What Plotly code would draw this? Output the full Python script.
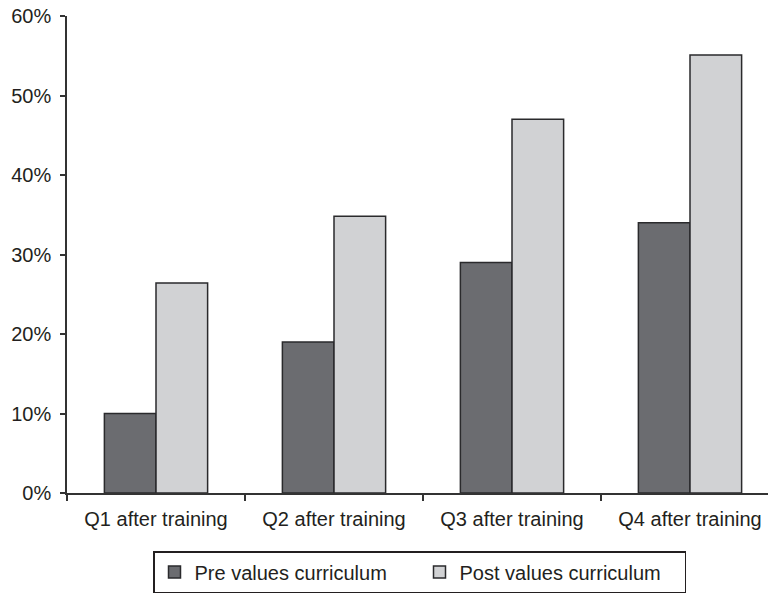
import plotly.graph_objects as go

categories = ["Q1 after training", "Q2 after training", "Q3 after training", "Q4 after training"]
pre_values = [10, 19, 29, 34]
post_values = [26.4, 34.8, 47, 55.1]
series_names = ["Pre values curriculum", "Post values curriculum"]
y_ticks = [0, 10, 20, 30, 40, 50, 60]
y_tick_labels = ["0%", "10%", "20%", "30%", "40%", "50%", "60%"]

FONT = "Liberation Sans, Arial, sans-serif"
INK = "#231f20"

W, H = 768, 596

fig = go.Figure()
fig.add_trace(go.Bar(x=categories, y=pre_values, name=series_names[0],
                     marker=dict(color="#6b6c70", line=dict(color="#2a2a2c", width=1.5))))
fig.add_trace(go.Bar(x=categories, y=post_values, name=series_names[1],
                     marker=dict(color="#d1d2d4", line=dict(color="#2a2a2c", width=1.5))))

fig.update_layout(
    width=W, height=H,
    margin=dict(l=67, r=0, t=16, b=103, autoexpand=False),
    paper_bgcolor="white", plot_bgcolor="white",
    font=dict(family=FONT, size=20, color=INK),
    barmode="group", bargap=0.42, bargroupgap=0,
    showlegend=True,
    legend=dict(orientation="h", xref="container", yref="container",
                x=153/W, y=1-551/H, xanchor="left", yanchor="top",
                bordercolor=INK, borderwidth=1.5,
                entrywidth=220, entrywidthmode="pixels",
                font=dict(family=FONT, size=20, color=INK)),
)
fig.update_xaxes(range=[-0.5, 3.5 - 11/178], showline=True, linecolor="#333", linewidth=1.5,
                 ticks="outside", tickson="boundaries", ticklen=6, tickcolor="#333", tickwidth=1.5,
                 showgrid=False, zeroline=False, fixedrange=True, automargin=False,
                 ticklabeloverflow="allow", ticklabelstandoff=7)
fig.update_yaxes(range=[0, 60], tickmode="array", tickvals=y_ticks, ticktext=y_tick_labels,
                 showline=True, linecolor="#333", linewidth=1.5, ticks="outside", ticklen=5,
                 tickcolor="#333", tickwidth=1.5, showgrid=False, zeroline=False,
                 ticklabelstandoff=5, automargin=False, ticklabeloverflow="allow",
                 fixedrange=True)

fig.write_html("out.html", config={"displayModeBar": False},
               post_script="document.body.style.margin='0';")
